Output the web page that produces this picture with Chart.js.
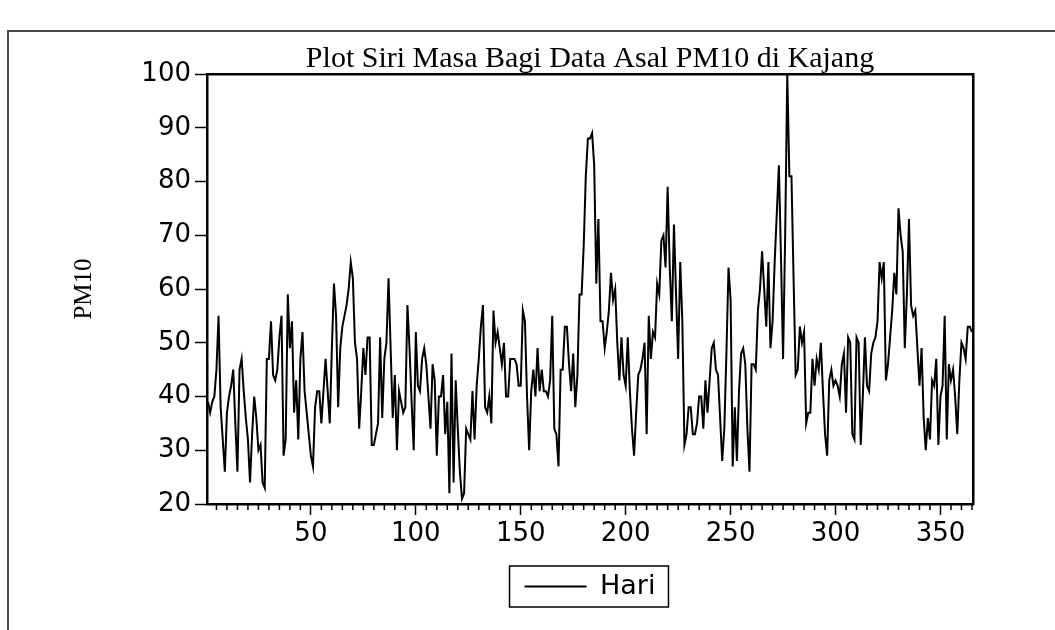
<!DOCTYPE html>
<html>
<head>
<meta charset="utf-8">
<script src="https://cdn.jsdelivr.net/npm/chart.js@4.4.0/dist/chart.umd.min.js"></script>
<style>
    html, body { margin: 0; padding: 0; background: #fff; }
    #wrap { position: relative; width: 1055px; height: 630px; overflow: hidden; }
    #frame { position: absolute; left: 7px; top: 30px; width: 1100px; height: 700px; border-left: 2px solid #4a4a4a; border-top: 2px solid #4a4a4a; }
    canvas { position: absolute; left: 0; top: 0; }
</style>
</head>
<body>
<div id="wrap">
    <div id="frame"></div>
    <canvas id="chart" width="1055" height="630"></canvas>
</div>
<script>
// PM10 daily values (day 1 .. 365)
const pm10 = [
    39, 37, 39, 40, 45, 55, 38, 32, 26, 37,
    40, 42, 45, 35, 26, 45, 47, 41, 36, 32,
    24, 33, 40, 36, 30, 31, 24, 23, 47, 47,
    54, 44, 43, 45, 51, 55, 29, 32, 59, 49,
    54, 37, 43, 32, 47, 52, 41, 37, 33, 29,
    27, 38, 41, 41, 35, 41, 47, 41, 35, 49,
    61, 55, 38, 49, 53, 55, 57, 60, 65, 62,
    50, 47, 34, 41, 49, 44, 51, 51, 31, 31,
    33, 35, 51, 36, 47, 50, 62, 49, 36, 44,
    30, 41, 39, 37, 38, 57, 49, 39, 30, 52,
    42, 41, 47, 49, 46, 40, 34, 46, 43, 29,
    40, 40, 44, 33, 39, 22, 48, 24, 43, 34,
    26, 21, 22, 34, 33, 32, 41, 32, 42, 47,
    53, 57, 38, 37, 40, 35, 56, 50, 52, 49,
    46, 50, 40, 40, 47, 47, 47, 46, 42, 42,
    56, 54, 40, 30, 41, 45, 40, 49, 41, 45,
    41, 41, 40, 43, 55, 34, 33, 27, 45, 45,
    53, 53, 46, 41, 48, 38, 44, 59, 59, 68,
    81, 88, 88, 89, 83, 61, 73, 54, 54, 49,
    52, 56, 63, 58, 60, 50, 43, 51, 44, 42,
    51, 41, 34, 29, 37, 44, 45, 47, 50, 33,
    55, 47, 52, 51, 61, 59, 69, 70, 64, 79,
    64, 54, 72, 59, 47, 65, 54, 31, 33, 38,
    38, 33, 33, 35, 40, 40, 34, 43, 37, 43,
    49, 50, 45, 44, 36, 28, 34, 48, 64, 58,
    27, 38, 28, 41, 48, 49, 46, 34, 26, 46,
    46, 45, 56, 60, 67, 60, 53, 65, 49, 54,
    65, 74, 83, 66, 47, 70, 100, 81, 81, 62,
    44, 45, 53, 50, 52, 35, 37, 37, 47, 42,
    47, 45, 50, 41, 33, 29, 43, 45, 42, 43,
    42, 40, 46, 48, 37, 51, 50, 33, 32, 51,
    50, 31, 40, 51, 42, 41, 48, 50, 51, 54,
    65, 62, 65, 43, 46, 51, 56, 63, 59, 75,
    70, 67, 49, 59, 73, 57, 55, 56, 49, 42,
    49, 36, 30, 36, 32, 43, 42, 47, 31, 40,
    42, 55, 32, 46, 43, 45, 40, 33, 43, 50,
    49, 47, 53, 53, 52
];
const hari = pm10.map((v, i) => i + 1);

const xTicks = [50, 100, 150, 200, 250, 300, 350];
const yTicks = [20, 30, 40, 50, 60, 70, 80, 90, 100];
const minorStep = 5;
const xMin = 0.5;
const xMax = 365.5;

// short ticks every 5 days under the x axis
const minorTicks = {
    id: 'minorTicks',
    afterDraw(chart) {
        const sx = chart.scales.x;
        const ctx = chart.ctx;
        ctx.save();
        ctx.strokeStyle = '#000';
        ctx.lineWidth = 1.5;
        ctx.beginPath();
        for (let v = minorStep; v < xMax; v += minorStep) {
            if (xTicks.includes(v)) continue;
            const px = sx.getPixelForValue(v);
            ctx.moveTo(px, sx.top);
            ctx.lineTo(px, sx.top + 6);
        }
        ctx.stroke();
        ctx.restore();
    }
};

// framed legend box
const legendBox = {
    id: 'legendBox',
    afterDraw(chart) {
        const hit = chart.legend.legendHitBoxes[0];
        if (!hit) return;
        const ctx = chart.ctx;
        const cy = hit.top + hit.height / 2;
        ctx.save();
        ctx.strokeStyle = '#000';
        ctx.lineWidth = 1.5;
        ctx.strokeRect(hit.left - 15, cy - 20.5, hit.width + 28, 41);
        ctx.restore();
    }
};

const tickFont = { family: 'DejaVu Sans', size: 26 };

new Chart(document.getElementById('chart'), {
    type: 'line',
    data: {
        datasets: [{
            label: 'Hari',
            data: hari.map((d, i) => ({ x: d, y: pm10[i] })),
            borderColor: '#000',
            backgroundColor: '#000',
            borderWidth: 2,
            pointRadius: 0,
            tension: 0
        }]
    },
    options: {
        responsive: false,
        animation: false,
        devicePixelRatio: 1,
        layout: { padding: { left: 7, right: 82, top: 44, bottom: 20 } },
        scales: {
            x: {
                type: 'linear', position: 'bottom', min: xMin, max: xMax,
                afterBuildTicks: s => { s.ticks = xTicks.map(v => ({ value: v })); },
                afterFit: s => { s.height = 59; },
                grid: { drawOnChartArea: false, tickLength: 11, tickColor: '#000', tickWidth: 1.5 },
                border: { color: '#000', width: 2.5 },
                ticks: { color: '#000', font: tickFont, padding: 4, maxRotation: 0, autoSkip: false }
            },
            y: {
                type: 'linear', position: 'left', min: 20, max: 100,
                afterBuildTicks: s => { s.ticks = yTicks.map(v => ({ value: v })); },
                afterFit: s => { s.width = 200; },
                grid: { drawOnChartArea: false, tickLength: 12, tickColor: '#000', tickWidth: 1.5 },
                border: { color: '#000', width: 2.5 },
                ticks: { color: '#000', font: tickFont, padding: 4 },
                title: {
                    display: true, text: 'PM10', color: '#000',
                    font: { family: 'Liberation Serif', size: 25 },
                    padding: { top: 62, bottom: 0 }
                }
            },
            x2: {
                type: 'linear', position: 'top', min: xMin, max: xMax,
                afterFit: s => { s.height = 0; },
                grid: { drawOnChartArea: false, drawTicks: false },
                border: { color: '#000', width: 2.5 },
                ticks: { display: false }
            },
            y2: {
                type: 'linear', position: 'right', min: 20, max: 100,
                afterFit: s => { s.width = 0; },
                grid: { drawOnChartArea: false, drawTicks: false },
                border: { color: '#000', width: 2.5 },
                ticks: { display: false }
            }
        },
        plugins: {
            title: {
                display: true,
                text: 'Plot Siri Masa Bagi Data Asal PM10 di Kajang',
                color: '#000',
                font: { family: 'Liberation Serif', size: 30, weight: 'normal', lineHeight: 1 },
                padding: 0,
                fullSize: false
            },
            legend: {
                position: 'bottom',
                fullSize: false,
                labels: {
                    color: '#000',
                    font: { family: 'DejaVu Sans', size: 27 },
                    usePointStyle: true,
                    pointStyle: 'line',
                    pointStyleWidth: 62,
                    padding: 10
                }
            },
            tooltip: { enabled: false }
        }
    },
    plugins: [minorTicks, legendBox]
});
</script>
</body>
</html>
